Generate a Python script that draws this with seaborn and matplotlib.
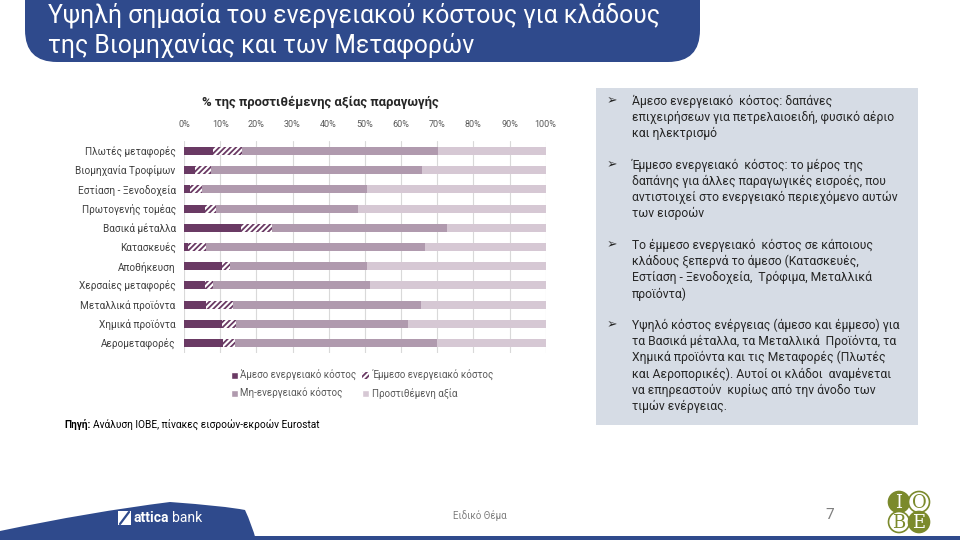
import matplotlib
matplotlib.use("Agg")
import matplotlib.pyplot as plt
from matplotlib.patches import Patch, FancyBboxPatch, Rectangle, Circle, PathPatch
from matplotlib.path import Path
import seaborn as sns
import pandas as pd

# Data (% of production value)
sectors = ["Πλωτές μεταφορές", "Βιομηχανία Τροφίμων", "Εστίαση - Ξενοδοχεία",
           "Πρωτογενής τομέας", "Βασικά μέταλλα", "Κατασκευές", "Αποθήκευση",
           "Χερσαίες μεταφορές", "Μεταλλικά προϊόντα", "Χημικά προϊόντα",
           "Αερομεταφορές"]
direct = [7.9, 3.1, 1.7, 5.8, 15.7, 1.1, 10.4, 5.7, 6.0, 10.4, 10.8]
indirect = [8.1, 4.3, 3.4, 3.0, 8.5, 5.1, 2.2, 2.2, 7.5, 3.9, 3.2]
non_energy = [54.3, 58.5, 45.6, 39.4, 48.6, 60.5, 38.1, 43.6, 51.9, 47.5, 56.0]
value_added = [29.7, 34.1, 49.3, 51.8, 27.2, 33.3, 49.3, 48.5, 34.6, 38.2, 30.0]
series_labels = ["Άμεσο ενεργειακό κόστος", "Έμμεσο ενεργειακό κόστος",
                 "Μη-ενεργειακό κόστος", "Προστιθέμενη αξία"]
x_ticks = list(range(0, 101, 10))

bullets = [
    ["Άμεσο ενεργειακό  κόστος: δαπάνες",
     "επιχειρήσεων για πετρελαιοειδή, φυσικό αέριο",
     "και ηλεκτρισμό"],
    ["Έμμεσο ενεργειακό  κόστος: το μέρος της",
     "δαπάνης για άλλες παραγωγικές εισροές, που",
     "αντιστοιχεί στο ενεργειακό περιεχόμενο αυτών",
     "των εισροών"],
    ["Το έμμεσο ενεργειακό  κόστος σε κάποιους",
     "κλάδους ξεπερνά το άμεσο (Κατασκευές,",
     "Εστίαση - Ξενοδοχεία,  Τρόφιμα, Μεταλλικά",
     "προϊόντα)"],
    ["Υψηλό κόστος ενέργειας (άμεσο και έμμεσο) για",
     "τα Βασικά μέταλλα, τα Μεταλλικά  Προϊόντα, τα",
     "Χημικά προϊόντα και τις Μεταφορές (Πλωτές",
     "και Αεροπορικές). Αυτοί οι κλάδοι  αναμένεται",
     "να επηρεαστούν  κυρίως από την άνοδο των",
     "τιμών ενέργειας."],
]

sns.set_style("white")
plt.rcParams["font.family"] = ["Roboto", "DejaVu Sans"]
plt.rcParams["hatch.linewidth"] = 1.3

c_direct = "#6a3a64"
c_non = "#b09aae"
c_va = "#d6c8d4"
blue = "#2f4a8c"

df = pd.DataFrame({"sector": sectors, "direct": direct, "indirect": indirect,
                   "non_energy": non_energy, "value_added": value_added})
df["c1"] = df["direct"]
df["c2"] = df["c1"] + df["indirect"]
df["c3"] = df["c2"] + df["non_energy"]
df["c4"] = df["c3"] + df["value_added"]

fig = plt.figure(figsize=(9.6, 5.4), dpi=100)

# decoration layer in pixel coordinates
deco = fig.add_axes([0, 0, 1, 1])
deco.set_xlim(0, 960)
deco.set_ylim(540, 0)
deco.axis("off")

deco.add_patch(FancyBboxPatch((25, -40), 675, 102, boxstyle="round,pad=0,rounding_size=32",
                              facecolor=blue, edgecolor="none"))
deco.text(48, 15, "Υψηλή σημασία του ενεργειακού κόστους για κλάδους",
          color="white", fontsize=17.8, va="center", ha="left")
deco.text(48, 46, "της Βιομηχανίας και των Μεταφορών",
          color="white", fontsize=17.8, va="center", ha="left")

# right text box
deco.add_patch(Rectangle((596, 88), 322, 337, facecolor="#d6dce5", edgecolor="none"))
starts = [101, 165, 245, 325]
for y0, lines in zip(starts, bullets):
    deco.text(607, y0, "➢", fontsize=9, va="center", ha="left", color="#262626",
              family=["DejaVu Sans"], fontweight="bold")
    for i, line in enumerate(lines):
        deco.text(632, y0 + i * 16.3, line, fontsize=8.7, va="center", ha="left",
                  color="#262626")

# chart title and source
deco.text(320, 102, "% της προστιθέμενης αξίας παραγωγής", fontsize=9.4, fontweight="bold",
          ha="center", va="center", color="#262626")
src_b = deco.text(64, 425, "Πηγή:", fontsize=7.3, fontweight="bold", ha="left", va="center",
                  color="#000000")
fig.canvas.draw()
bb = src_b.get_window_extent()
deco.text(bb.x1 + 3, 425, "Ανάλυση ΙΟΒΕ, πίνακες εισροών-εκροών Eurostat", fontsize=7.3,
          ha="left", va="center", color="#000000")

# footer
swoosh = Path([(0, 531), (90, 512), (170, 502), (225, 506), (245, 510), (252, 525),
               (256, 540), (0, 540), (0, 531)],
              [Path.MOVETO, Path.CURVE3, Path.CURVE3, Path.CURVE3, Path.CURVE3,
               Path.CURVE3, Path.CURVE3, Path.LINETO, Path.CLOSEPOLY])
deco.add_patch(PathPatch(swoosh, facecolor=blue, edgecolor="none"))
deco.add_patch(Rectangle((0, 535.5), 960, 5, facecolor=blue, edgecolor="none"))
deco.add_patch(Rectangle((118, 511), 13, 14, facecolor="white", edgecolor="none"))
deco.plot([120, 129], [524, 512], color=blue, lw=1.6)
deco.text(134, 518, "attica", fontsize=10, fontweight="bold", color="white",
          ha="left", va="center")
deco.text(172, 518, "bank", fontsize=10, color="white", ha="left", va="center")
deco.text(480, 516, "Ειδικό Θέμα", fontsize=7, color="#7f7f7f", ha="center", va="center")
deco.text(830, 515, "7", fontsize=11, color="#7f7f7f", ha="center", va="center")
olive = "#7b8a2c"
for (cx, cy, letter, filled) in [(899, 502, "I", True), (919, 502, "O", False),
                                 (899, 522, "B", False), (919, 522, "E", True)]:
    deco.add_patch(Circle((cx, cy), 10.5, facecolor=olive if filled else "white",
                          edgecolor=olive, lw=1.2))
    deco.text(cx, cy + 1, letter, fontsize=13, family="DejaVu Serif",
              color="white" if filled else olive, ha="center", va="center")

# the chart
ax = fig.add_axes([184 / 960, 1 - 352.6 / 540, 361.7 / 960, 211.2 / 540])
bw = 0.42
sns.barplot(data=df, x="c4", y="sector", orient="h", color=c_va, saturation=1,
            width=bw, ax=ax, linewidth=0)
sns.barplot(data=df, x="c3", y="sector", orient="h", color=c_non, saturation=1,
            width=bw, ax=ax, linewidth=0)
sns.barplot(data=df, x="c2", y="sector", orient="h", color="white", saturation=1,
            width=bw, ax=ax, linewidth=0, hatch="//////", edgecolor=c_direct)
sns.barplot(data=df, x="c1", y="sector", orient="h", color=c_direct, saturation=1,
            width=bw, ax=ax, linewidth=0)

ax.set_xlim(0, 100)
ax.set_xticks(x_ticks)
ax.set_xticklabels([f"{v}%" for v in x_ticks])
ax.xaxis.tick_top()
ax.tick_params(axis="x", length=0, labelsize=6.5, labelcolor="#595959", pad=9)
ax.tick_params(axis="y", length=0, labelsize=7.2, labelcolor="#404040", pad=6)
ax.grid(axis="x", color="#d9d9d9", lw=0.8)
ax.set_axisbelow(True)
ax.set_xlabel("")
ax.set_ylabel("")
sns.despine(ax=ax, left=True, bottom=True, top=True, right=True)

# legend filled column-wise: (direct, non-energy) | (indirect, value added)
handles = [Patch(facecolor=c_direct, label=series_labels[0]),
           Patch(facecolor=c_non, label=series_labels[2]),
           Patch(facecolor="white", edgecolor=c_direct, hatch="//////", lw=0,
                 label=series_labels[1]),
           Patch(facecolor=c_va, label=series_labels[3])]
fig.legend(handles=handles, ncol=2, loc="upper left", bbox_to_anchor=(222 / 960, 1 - 361 / 540),
           frameon=False, fontsize=7, labelcolor="#595959", handlelength=0.7,
           handleheight=0.7, handletextpad=0.3, columnspacing=0.6, labelspacing=0.75)

fig.savefig("out.png", dpi=100)
